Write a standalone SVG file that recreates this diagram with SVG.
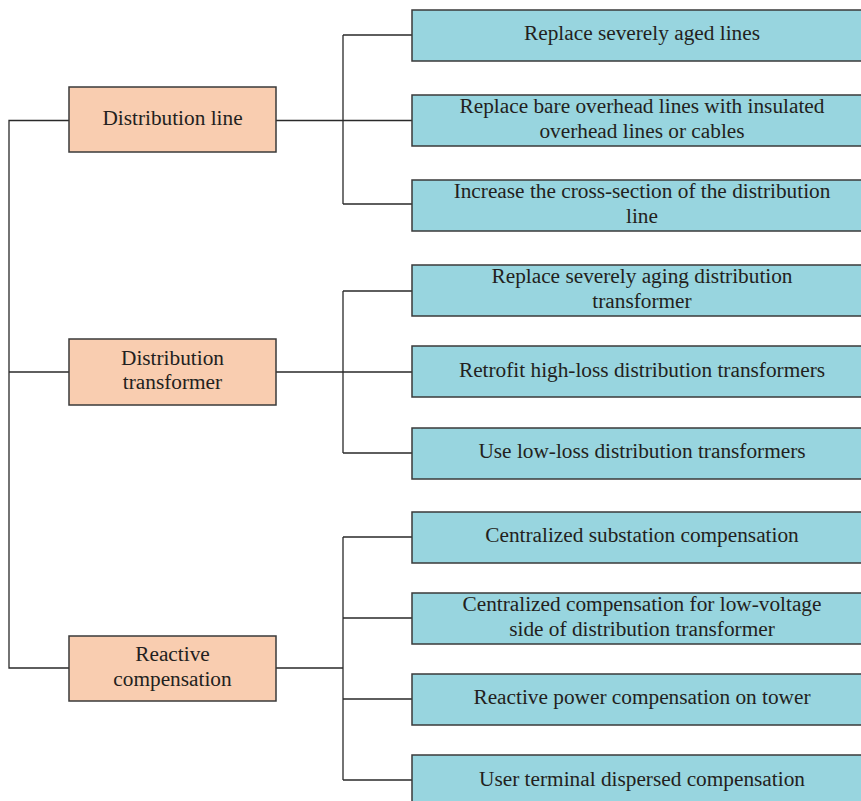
<svg xmlns="http://www.w3.org/2000/svg" width="861" height="801" viewBox="0 0 861 801">
<style>
.cat{fill:#F9CDB0;stroke:#3a3a3a;stroke-width:1.5}
.item{fill:#98D5DF;stroke:#3a3a3a;stroke-width:1.5}
text{font-family:"Liberation Serif","Times New Roman",serif;font-size:21.3px;fill:#231f20;text-anchor:middle}
.conn{fill:none;stroke:#2a2a2a;stroke-width:1.3}
</style>
<rect width="861" height="801" fill="#ffffff"/>
<g id="connectors">
<path class="conn" d="M69,120.5 H9 V668 H69"/>
<path class="conn" d="M9,372 H69"/>
<path class="conn" d="M276,120.5 H412 M343,35 V204 M343,35 H412 M343,204 H412"/>
<path class="conn" d="M276,372 H412 M343,291 V453 M343,291 H412 M343,453 H412"/>
<path class="conn" d="M276,668 H343 M343,537 V780 M343,537 H412 M343,618 H412 M343,699 H412 M343,780 H412"/>
</g>
<g id="n-line"><rect class="cat" x="69" y="87" width="207" height="65"/><text x="172.5" y="125">Distribution line</text></g>
<g id="n-transformer"><rect class="cat" x="69" y="339" width="207" height="66"/><text x="172.5" y="365">Distribution</text><text x="172.5" y="389">transformer</text></g>
<g id="n-reactive"><rect class="cat" x="69" y="636" width="207" height="65"/><text x="172.5" y="661">Reactive</text><text x="172.5" y="686">compensation</text></g>

<g id="n1"><rect class="item" x="412" y="10" width="462" height="51"/><text x="642" y="40">Replace severely aged lines</text></g>
<g id="n2"><rect class="item" x="412" y="95" width="462" height="51"/><text x="642" y="113">Replace bare overhead lines with insulated</text><text x="642" y="138">overhead lines or cables</text></g>
<g id="n3"><rect class="item" x="412" y="180" width="462" height="51"/><text x="642" y="198">Increase the cross-section of the distribution</text><text x="642" y="223">line</text></g>
<g id="n4"><rect class="item" x="412" y="265" width="462" height="51"/><text x="642" y="283">Replace severely aging distribution</text><text x="642" y="308">transformer</text></g>
<g id="n5"><rect class="item" x="412" y="346" width="462" height="51"/><text x="642" y="377">Retrofit high-loss distribution transformers</text></g>
<g id="n6"><rect class="item" x="412" y="428" width="462" height="51"/><text x="642" y="458">Use low-loss distribution transformers</text></g>
<g id="n7"><rect class="item" x="412" y="512" width="462" height="51"/><text x="642" y="542">Centralized substation compensation</text></g>
<g id="n8"><rect class="item" x="412" y="593" width="462" height="51"/><text x="642" y="611">Centralized compensation for low-voltage</text><text x="642" y="636">side of distribution transformer</text></g>
<g id="n9"><rect class="item" x="412" y="674" width="462" height="51"/><text x="642" y="704">Reactive power compensation on tower</text></g>
<g id="n10"><rect class="item" x="412" y="755" width="462" height="60"/><text x="642" y="786">User terminal dispersed compensation</text></g>
</svg>
